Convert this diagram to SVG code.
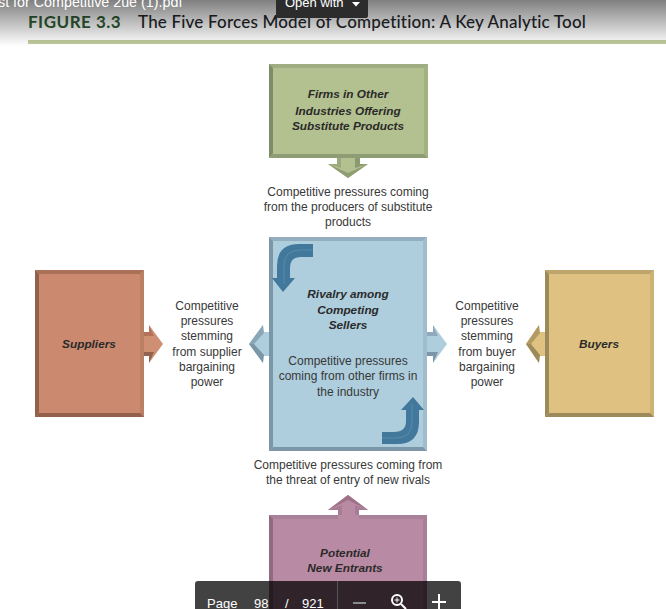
<svg xmlns="http://www.w3.org/2000/svg" width="666" height="609" viewBox="0 0 666 609">
<style>
.l{font:12px "Liberation Sans",Arial,sans-serif;fill:#383838;text-anchor:middle}
.n{font:italic bold 11.8px "Liberation Sans",Arial,sans-serif;fill:#2a2a2a;text-anchor:middle}
.t{font-family:Lato,"Open Sans",sans-serif;font-size:17px}
.u{font:13px "Liberation Sans",Arial,sans-serif;fill:#fff}
</style>
<defs>
<linearGradient id="top" x1="0" y1="0" x2="0" y2="1"><stop offset="0" stop-color="#000" stop-opacity=".5"/><stop offset="1" stop-color="#000" stop-opacity="0"/></linearGradient>
</defs>
<rect width="666" height="609" fill="#fff"/>
<g id="header">
<rect x="28" y="40" width="638" height="4" fill="#bfcc9d"/>
<text x="28" y="28" class="t" font-weight="700" fill="#2f5d34" letter-spacing=".5">FIGURE 3.3</text>
<text x="138" y="28" class="t" font-weight="500" fill="#23262b" letter-spacing=".19">The Five Forces Model of Competition: A Key Analytic Tool</text>
</g>
<g id="connectors">
<g id="arrow-substitutes">
<path d="M337 158V164H328L348 178L368 164H360V158Z" fill="#b3c08f"/>
<path d="M337 158V164H328L341 168V158Z" fill="#9aa97e"/>
<path d="M360 158V164H368L355 168V158Z" fill="#8b9a6f"/>
<path d="M328 164L348 178L368 164L348 173Z" fill="#8f9e72"/>
</g>
<g id="arrow-suppliers">
<path d="M144 332H149V325L163 344L149 363V356H144Z" fill="#cf8f73"/>
<path d="M144 332H149V325L154 336H144Z" fill="#b47358"/>
<path d="M144 356H149V363L154 352H144Z" fill="#94634f"/>
</g>
<g id="arrow-rivalry-left">
<path d="M269 332H263V325L249 344L263 363V356H269Z" fill="#aecddd"/>
<path d="M263 325L249 344L254 344L264 333Z" fill="#8aa7b8"/>
<path d="M263 363L249 344L254 344L264 355Z" fill="#7b97a7"/>
</g>
<g id="arrow-rivalry-right">
<path d="M427 332H433V325L447 344L433 363V356H427Z" fill="#aecddd"/>
<path d="M427 332H433V325L438 336H427Z" fill="#8fabbb"/>
<path d="M427 356H433V363L438 352H427Z" fill="#7b97a7"/>
</g>
<g id="arrow-buyers">
<path d="M545 332H539V325L526 344L539 363V356H545Z" fill="#dfc281"/>
<path d="M539 325L526 344L531 344L540 333Z" fill="#b39c63"/>
<path d="M539 363L526 344L531 344L540 355Z" fill="#9d8a5b"/>
</g>
<g id="arrow-entrants">
<path d="M338 515V510H328L348 495L368 510H359V515Z" fill="#b88aa3"/>
<path d="M328 510L348 495L368 510L348 500Z" fill="#9e7189"/>
<path d="M338 515V510H328L342 505V515Z" fill="#a87c94"/>
<path d="M359 515V510H368L355 505V515Z" fill="#a87c94"/>
</g>
</g>
<g id="node-substitutes">
<rect x="269" y="64" width="159" height="94" fill="#b3c08f"/>
<path d="M269 64H428L424 68H273Z" fill="#a0ad82"/><path d="M269 64L273 68V154L269 158Z" fill="#7f8c68"/><path d="M428 64L424 68V154L428 158Z" fill="#a4b182"/><path d="M269 158L273 154H424L428 158Z" fill="#8f9d74"/>
<text class="n" x="348" y="98">Firms in Other</text><text class="n" x="348" y="115">Industries Offering</text><text class="n" x="348" y="130">Substitute Products</text>
</g>
<text class="l" x="348" y="196">Competitive pressures coming</text>
<text class="l" x="348" y="211">from the producers of substitute</text>
<text class="l" x="348" y="226">products</text>
<g id="node-suppliers">
<rect x="35" y="270" width="109" height="147" fill="#cb8a6f"/>
<path d="M35 270H144L140 274H39Z" fill="#ab7058"/><path d="M35 270L39 274V413L35 417Z" fill="#93604c"/><path d="M144 270L140 274V413L144 417Z" fill="#bb7f65"/><path d="M35 417L39 413H140L144 417Z" fill="#93604c"/>
<text class="n" x="89" y="348">Suppliers</text>
</g>
<g id="node-rivalry">
<rect x="269" y="237" width="158" height="214" fill="#aecddd"/>
<path d="M269 237H427L423 241H273Z" fill="#93afbf"/><path d="M269 237L273 241V447L269 451Z" fill="#7b97a7"/><path d="M427 237L423 241V447L427 451Z" fill="#9fbdcd"/><path d="M269 451L273 447H423L427 451Z" fill="#7b97a7"/>
<path d="M313 244V257H301Q290 257 290 268V278H295L283 292L272 278H277V266Q277 244 299 244Z" fill="#41789b"/>
<path d="M313 250H300Q284 250 284 266V284" fill="none" stroke="#5d90ae" stroke-width=".8"/>
<path d="M382 444V432H394Q406 432 406 421V410H401L413 397L424 410H419V422Q419 444 397 444Z" fill="#41789b"/>
<path d="M382 438H396Q412 438 412 422V404" fill="none" stroke="#5d90ae" stroke-width=".8"/>
<text class="n" x="348" y="298">Rivalry among</text><text class="n" x="348" y="314">Competing</text><text class="n" x="348" y="329">Sellers</text>
<text class="l" x="348" y="365">Competitive pressures</text><text class="l" x="348" y="380">coming from other firms in</text><text class="l" x="348" y="396">the industry</text>
</g>
<text class="l" x="207" y="310">Competitive</text><text class="l" x="207" y="325">pressures</text><text class="l" x="207" y="340">stemming</text><text class="l" x="207" y="356">from supplier</text><text class="l" x="207" y="371">bargaining</text><text class="l" x="207" y="386">power</text>
<text class="l" x="487" y="310">Competitive</text><text class="l" x="487" y="325">pressures</text><text class="l" x="487" y="340">stemming</text><text class="l" x="487" y="356">from buyer</text><text class="l" x="487" y="371">bargaining</text><text class="l" x="487" y="386">power</text>
<g id="node-buyers">
<rect x="545" y="270" width="109" height="147" fill="#dfc281"/>
<path d="M545 270H654L650 274H549Z" fill="#bda56c"/><path d="M545 270L549 274V413L545 417Z" fill="#9d8a5b"/><path d="M654 270L650 274V413L654 417Z" fill="#cdb274"/><path d="M545 417L549 413H650L654 417Z" fill="#9d8a5b"/>
<text class="n" x="599" y="348">Buyers</text>
</g>
<text class="l" x="348" y="469">Competitive pressures coming from</text>
<text class="l" x="348" y="484">the threat of entry of new rivals</text>
<g id="node-entrants">
<rect x="269" y="515" width="158" height="94" fill="#b88aa3"/>
<path d="M269 515H338V519H273ZM359 515H427L423 519H359Z" fill="#a9829a"/><path d="M269 515L273 519V609H269Z" fill="#8f6a80"/><path d="M427 515L423 519V609H427Z" fill="#a97e96"/>
<text class="n" x="345" y="557">Potential</text><text class="n" x="345" y="572">New Entrants</text>
</g>
<g id="viewer">
<rect width="666" height="46" fill="url(#top)"/>
<text class="u" x="-2" y="7" style="font-size:14.3px">st for Competitive 2ue (1).pdf</text>
<path d="M276 0H368V16Q368 18 366 18H278Q276 18 276 16Z" fill="#2c2c2c"/>
<text class="u" x="285" y="7">Open with</text><path d="M352 2H360L356 6.500Z" fill="#fff"/>
<rect x="195" y="581" width="266" height="40" rx="3" fill="#000" opacity=".74"/>
<rect x="337" y="581" width="1" height="28" fill="#555"/>
<text class="u" x="207" y="608">Page</text><text class="u" x="254" y="608">98</text><text class="u" x="285" y="608">/</text><text class="u" x="302" y="608">921</text>
<rect x="353" y="602" width="13" height="2" fill="#8a8a8a"/>
<circle cx="397" cy="600" r="5" fill="none" stroke="#fff" stroke-width="2"/><path d="M401 604L406 609" stroke="#fff" stroke-width="2"/><path d="M394.500 600H399.500M397 597.500V602.500" stroke="#fff"/>
<path d="M439 594V609M432 602H446" stroke="#fff" stroke-width="2"/>
</g>
</svg>
